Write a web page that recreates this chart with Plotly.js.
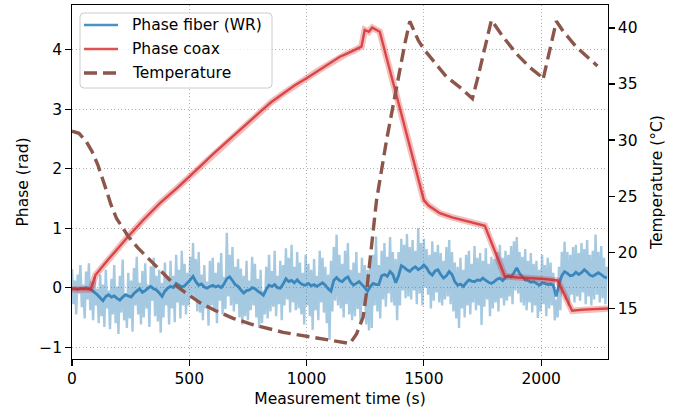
<!DOCTYPE html>
<html>
<head>
<meta charset="utf-8">
<script src="https://cdn.plot.ly/plotly-3.0.1.min.js"></script>
<style>html,body{margin:0;padding:0;background:#fff;}#chart{width:674px;height:411px;}</style>
</head>
<body>
<div id="chart"></div>
<script>
// ---- data ----
const rawStep = 6;      // s between raw fiber samples
const smoothStep = 12;  // s between smoothed fiber samples

const fiberRaw = [
0.31,-0.28,0.12,-0.45,0.22,-0.1,0.38,-0.33,0.05,-0.52,
0.27,-0.2,0.41,-0.38,0.1,-0.55,0.18,-0.3,-0.02,-0.6,
0.22,-0.48,0.05,-0.66,0.3,-0.35,-0.05,-0.7,0.15,-0.45,
0.38,-0.6,0.02,-0.78,0.2,-0.42,0.47,-0.55,-0.1,-0.68,
0.25,-0.52,0.12,-0.74,0.33,-0.3,0.52,-0.45,0.08,-0.62,
0.28,-0.5,0.41,-0.35,0.05,-0.66,0.36,-0.22,0.5,-0.48,
0.2,-0.57,0.3,-0.76,0.08,-0.5,0.42,-0.3,0.15,-0.62,
0.45,-0.35,0.2,-0.58,0.55,-0.25,0.3,-0.52,0.62,-0.3,
0.4,-0.45,0.25,-0.3,0.52,-0.18,0.75,-0.2,0.48,-0.4,
0.6,-0.42,0.22,-0.55,0.38,-0.35,0.1,-0.64,0.45,-0.3,
0.5,-0.38,0.25,-0.6,0.42,-0.22,0.58,-0.45,0.18,-0.36,
0.92,-0.15,0.55,-0.3,0.68,-0.4,0.35,-0.28,0.48,-0.5,
0.32,-0.62,0.2,-0.48,0.45,-0.55,0.12,-0.38,0.52,-0.3,
0.4,-0.5,0.15,-0.68,0.3,-0.6,-0.05,-0.45,0.35,-0.52,
0.55,-0.4,0.28,-0.32,0.62,-0.48,0.2,-0.28,0.45,-0.55,
0.38,-0.3,0.66,-0.2,0.5,-0.42,0.72,-0.25,0.35,-0.38,
0.6,-0.35,0.42,-0.45,0.25,-0.62,0.55,-0.3,0.4,-0.48,
0.3,-0.71,0.48,-0.38,0.2,-0.55,0.62,-0.25,0.5,-0.42,
0.35,-0.6,0.22,-0.88,0.45,-0.4,0.68,-0.22,0.89,-0.3,
0.55,-0.35,0.4,-0.5,0.62,-0.28,0.75,-0.45,0.3,-0.55,
0.42,-0.48,0.6,-0.36,0.25,-0.58,0.5,-0.3,0.38,-0.62,
0.3,-0.72,0.45,-0.68,0.55,-0.3,0.86,-0.4,0.38,-0.52,
0.62,-0.2,0.75,-0.32,0.52,-0.1,0.85,-0.25,0.6,-0.3,
0.48,-0.55,0.6,-0.3,0.82,-0.05,0.72,-0.18,0.9,-0.15,
0.68,-0.2,0.8,-0.05,0.62,-0.28,1.0,-0.1,0.75,-0.3,
0.82,0.0,0.65,-0.12,0.55,-0.35,0.78,-0.22,0.6,-0.08,
0.72,-0.25,0.58,-0.3,0.45,-0.2,0.68,-0.15,0.8,-0.28,
0.6,-0.4,0.42,-0.52,0.35,-0.68,0.5,-0.35,0.3,-0.5,
0.55,-0.3,0.62,-0.45,0.4,-0.25,0.7,-0.38,0.5,-0.3,
0.58,-0.63,0.45,-0.32,0.66,-0.2,0.4,-0.48,0.52,-0.35,
0.48,-0.25,0.6,-0.4,0.72,-0.18,0.5,-0.3,0.62,-0.22,
0.55,-0.15,0.7,-0.28,0.78,-0.05,0.85,-0.1,0.6,-0.25,
0.52,-0.3,0.65,-0.38,0.45,-0.25,0.58,-0.42,0.4,-0.3,
0.45,-0.51,0.3,-0.4,0.55,-0.28,0.38,-0.48,0.5,-0.35,
0.42,-0.3,0.25,-0.55,-0.2,-0.5,0.35,-0.38,0.6,-0.1,
0.77,-0.2,0.6,-0.3,0.55,-0.12,0.68,-0.25,0.72,-0.15,
0.58,-0.22,0.75,-0.08,0.65,-0.28,0.8,-0.15,0.55,-0.3,
0.62,-0.2,0.89,-0.12,0.6,-0.25,0.7,-0.18,0.5,-0.28,
0.35
];

const fiberSmooth = [
-0.02,-0.01,-0.03,-0.01,-0.02,0.0,-0.01,-0.04,-0.08,-0.12,
-0.17,-0.22,-0.15,-0.12,-0.16,-0.14,-0.18,-0.21,-0.16,-0.12,
-0.14,-0.16,-0.10,-0.06,-0.02,-0.08,-0.05,-0.01,0.02,-0.02,
-0.04,-0.09,-0.15,-0.06,-0.01,0.02,0.0,0.07,0.04,0.01,
0.03,0.08,0.13,0.19,0.10,0.04,0.06,0.01,-0.01,0.02,
0.04,0.01,0.03,0.0,0.06,0.15,0.18,0.12,0.05,0.02,
-0.04,-0.09,-0.05,-0.04,0.0,-0.02,-0.06,-0.09,-0.13,-0.03,
0.04,0.02,0.05,0.0,-0.01,0.06,0.15,0.10,0.12,0.08,
0.13,0.08,0.05,0.04,0.07,0.03,0.05,0.02,0.05,0.08,
0.04,-0.02,-0.06,0.12,0.17,0.12,0.10,0.15,0.18,0.09,
0.04,0.07,0.10,0.05,0.0,-0.06,0.02,0.07,0.05,0.05,
0.20,0.22,0.19,0.27,0.22,0.08,0.20,0.37,0.34,0.30,
0.27,0.32,0.35,0.30,0.33,0.38,0.33,0.25,0.21,0.28,
0.30,0.22,0.16,0.20,0.27,0.22,0.10,0.04,0.06,0.02,
0.08,0.13,0.11,0.10,0.13,0.12,0.16,0.12,0.09,0.07,
0.10,0.14,0.16,0.12,0.17,0.20,0.18,0.25,0.33,0.24,
0.18,0.13,0.12,0.09,0.10,0.07,0.04,0.08,0.07,0.05,
0.06,0.04,-0.15,0.06,0.20,0.27,0.24,0.20,0.21,0.26,
0.22,0.25,0.30,0.26,0.21,0.19,0.22,0.25,0.22,0.18,
0.16
];

const coaxT = [0,40,80,100,150,200,233,300,375,450,500,550,600,650,700,750,815,850,900,950,
  1000,1050,1080,1110,1142,1170,1200,1234,1248,1265,1280,1295,1312,1400,1500,1520,1568,1620,1700,1760,
  1845,1900,2000,2070,2132,2180,2285];
const coaxV = [-0.03,-0.02,-0.03,0.21,0.45,0.68,0.83,1.12,1.42,1.68,1.86,2.05,2.24,2.42,2.60,2.78,3.00,3.12,3.26,3.40,
  3.52,3.65,3.72,3.80,3.88,3.93,3.98,4.05,4.33,4.30,4.37,4.34,4.30,2.98,1.47,1.38,1.25,1.18,1.10,1.04,
  0.19,0.17,0.15,0.12,-0.39,-0.37,-0.35];

const tempT = [0,30,60,85,110,132,150,165,190,215,240,280,332,380,432,490,545,610,687,760,
  830,900,971,1050,1128,1185,1213,1241,1255,1284,1298,1341,1383,1419,1440,1476,1504,1554,1596,1660,
  1707,1731,1767,1788,1838,1895,1951,2001,2008,2037,2065,2094,2150,2240];
const tempV = [30.8,30.6,29.9,29.0,27.8,26.5,25.3,24.3,23.0,22.2,21.4,20.4,19.3,18.2,17.2,16.3,15.5,14.8,14.1,13.6,
  13.2,12.85,12.6,12.35,12.1,11.85,12.7,14.2,16.3,21.7,24.6,30.0,34.8,38.6,40.6,38.9,38.0,36.7,35.65,34.6,
  33.7,35.65,38.9,40.7,39.2,37.7,36.5,35.65,35.4,38.0,40.6,39.7,38.3,36.6];

const xTicks = [0, 500, 1000, 1500, 2000];
const yTicks = [-1, 0, 1, 2, 3, 4];
const y2Ticks = [15, 20, 25, 30, 35, 40];
const legendNames = ['Phase fiber (WR)', 'Phase coax', 'Temperature'];

// ---- styling ----
const FONT = 'DejaVu Sans, Liberation Sans, sans-serif';
const FS = 15.5;
const BLUE_RAW = 'rgba(31,119,180,0.4)';
const BLUE = 'rgba(31,119,180,0.8)';
const RED_RAW = 'rgba(214,39,40,0.3)';
const RED = 'rgba(214,39,40,0.8)';
const BROWN = '#8c564b';
const DASH = '13px,6px';

const tRaw = fiberRaw.map((_, i) => i * rawStep);
const tSmooth = fiberSmooth.map((_, i) => i * smoothStep);

const traces = [
  {x: tRaw, y: fiberRaw, mode: 'lines', line: {color: BLUE_RAW, width: 2.4, simplify: false}, hoverinfo: 'skip'},
  {x: tSmooth, y: fiberSmooth, mode: 'lines', name: legendNames[0], line: {color: BLUE, width: 2.8, simplify: false}},
  {x: coaxT, y: coaxV, mode: 'lines', line: {color: RED_RAW, width: 6.5}, hoverinfo: 'skip'},
  {x: coaxT, y: coaxV, mode: 'lines', name: legendNames[1], line: {color: RED, width: 2.4}},
  {x: tempT, y: tempV, mode: 'lines', name: legendNames[2], yaxis: 'y2', line: {color: BROWN, width: 3.4, dash: DASH}}
];

// plot area in pixels
const L = 72, R = 608, T = 5, B = 359;
const px = v => (v - L) / (R - L);
const py = v => (B - v) / (B - T);

const axisCommon = {
  ticks: 'outside', ticklen: 5.5, tickwidth: 1.2, tickcolor: '#000',
  showline: true, linewidth: 1.2, linecolor: '#000',
  zeroline: false,
  tickfont: {family: FONT, size: FS, color: '#000'},
  gridcolor: '#b0b0b0', gridwidth: 1, griddash: '1.3px,2.2px'
};

// legend box and entries
const lx0 = 80, lx1 = 272, ly0 = 13, ly1 = 88, rad = 4;
const rx = rad / (R - L), ry = rad / (B - T);
const X0 = px(lx0), X1 = px(lx1), Y0 = py(ly0), Y1 = py(ly1);
const boxPath = `M ${X0 + rx},${Y0} L ${X1 - rx},${Y0} Q ${X1},${Y0} ${X1},${Y0 - ry} L ${X1},${Y1 + ry} Q ${X1},${Y1} ${X1 - rx},${Y1} L ${X0 + rx},${Y1} Q ${X0},${Y1} ${X0},${Y1 + ry} L ${X0},${Y0 - ry} Q ${X0},${Y0} ${X0 + rx},${Y0} Z`;

const shapes = [{
  type: 'path', xref: 'paper', yref: 'paper', path: boxPath, layer: 'above',
  fillcolor: 'rgba(255,255,255,0.8)', line: {color: '#cccccc', width: 1}
}];
const annotations = [];
const rowsY = [25, 49, 73];
const legendStyles = [
  {color: BLUE, width: 2.6, dash: 'solid'},
  {color: RED, width: 2.4, dash: 'solid'},
  {color: BROWN, width: 3.4, dash: DASH}
];
legendNames.forEach((name, i) => {
  shapes.push({type: 'line', xref: 'paper', yref: 'paper', layer: 'above',
    x0: px(84), x1: px(118), y0: py(rowsY[i]), y1: py(rowsY[i]),
    line: legendStyles[i]});
  annotations.push({xref: 'paper', yref: 'paper', x: px(130), y: py(rowsY[i]),
    xanchor: 'left', yanchor: 'middle', showarrow: false, text: name,
    font: {family: FONT, size: FS, color: '#000'}});
});

const layout = {
  width: 674, height: 411,
  margin: {l: L, r: 674 - R, t: T, b: 411 - B, pad: 0},
  paper_bgcolor: '#fff', plot_bgcolor: '#fff',
  showlegend: false,
  xaxis: Object.assign({}, axisCommon, {
    range: [0, 2285], tickvals: xTicks, showgrid: true, mirror: true,
    title: {text: 'Measurement time (s)', font: {family: FONT, size: FS, color: '#000'}, standoff: 5}
  }),
  yaxis: Object.assign({}, axisCommon, {
    range: [-1.2, 4.75], tickvals: yTicks, showgrid: true, mirror: true,
    title: {text: 'Phase (rad)', font: {family: FONT, size: FS, color: '#000'}, standoff: 7}
  }),
  yaxis2: Object.assign({}, axisCommon, {
    overlaying: 'y', side: 'right', range: [10.47, 42.05], tickvals: y2Ticks, showgrid: false,
    title: {text: 'Temperature (°C)', font: {family: FONT, size: FS, color: '#000'}, standoff: 14}
  }),
  shapes: shapes,
  annotations: annotations
};

Plotly.newPlot('chart', traces, layout, {staticPlot: true, displayModeBar: false});
</script>
</body>
</html>
